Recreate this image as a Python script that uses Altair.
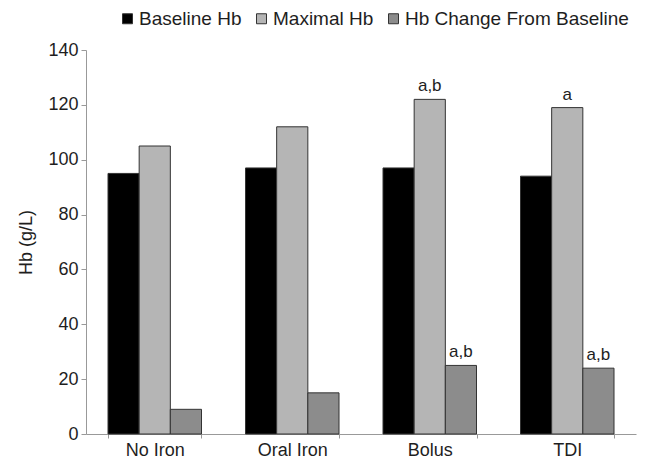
import altair as alt
import pandas as pd

groups = ["No Iron", "Oral Iron", "Bolus", "TDI"]
series = ["Baseline Hb", "Maximal Hb", "Hb Change From Baseline"]
baseline = [95, 97, 97, 94]
maximal = [105, 112, 122, 119]
change = [9, 15, 25, 24]
note_max = ["", "", "a,b", "a"]
note_change = ["", "", "a,b", "a,b"]
colors = ["#000000", "#b5b5b5", "#8c8c8c"]

rows = []
for i, g in enumerate(groups):
    rows.append({"group": g, "series": series[0], "value": baseline[i], "note": ""})
    rows.append({"group": g, "series": series[1], "value": maximal[i], "note": note_max[i]})
    rows.append({"group": g, "series": series[2], "value": change[i], "note": note_change[i]})
df = pd.DataFrame(rows)

FONT = "Liberation Sans"
TXT = "#1e1e1e"

x = alt.X("group:N", sort=groups, title=None,
          scale=alt.Scale(paddingInner=0.32, paddingOuter=0.16),
          axis=alt.Axis(labelAngle=0, labelFontSize=18, labelFont=FONT, labelColor=TXT,
                        labelPadding=3, tickBand="extent", tickSize=4,
                        domainColor="#999", tickColor="#999"))
xo = alt.XOffset("series:N", sort=series,
                 scale=alt.Scale(paddingInner=0, paddingOuter=0))
y = alt.Y("value:Q", title="Hb (g/L)",
          scale=alt.Scale(domain=[0, 140], nice=False),
          axis=alt.Axis(values=list(range(0, 141, 20)), grid=False, labelFontSize=18,
                        labelFont=FONT, labelColor=TXT, labelPadding=3, titleFont=FONT,
                        titleFontSize=18, titleFontWeight="normal", titleColor=TXT,
                        titlePadding=12, tickSize=5, domainColor="#999", tickColor="#999"))

bars = alt.Chart(df).mark_bar(stroke="#333", strokeWidth=1).encode(
    x=x, xOffset=xo, y=y,
    color=alt.Color("series:N", sort=series, title=None,
                    scale=alt.Scale(domain=series, range=colors),
                    legend=alt.Legend(orient="none", legendX=32, legendY=-41, direction="horizontal",
                                      symbolType="square", symbolSize=100, symbolStrokeColor="#333",
                                      symbolStrokeWidth=1, labelFontSize=19, labelFont=FONT,
                                      labelColor=TXT, columnPadding=10, symbolOffset=0,
                                      labelOffset=2, labelLimit=0)),
)
text = alt.Chart(df).mark_text(dy=-4, baseline="bottom", fontSize=17, font=FONT, color=TXT).encode(
    x=x, xOffset=xo, y=y, text="note:N"
)

chart = (bars + text).properties(
    width=550, height=384,
    padding={"left": 78, "top": 42, "right": 2, "bottom": 25},
    autosize=alt.AutoSizeParams(type="none"),
).configure(font=FONT).configure_view(stroke=None)

chart.save("out.html", embed_options={"renderer": "svg", "actions": False})
